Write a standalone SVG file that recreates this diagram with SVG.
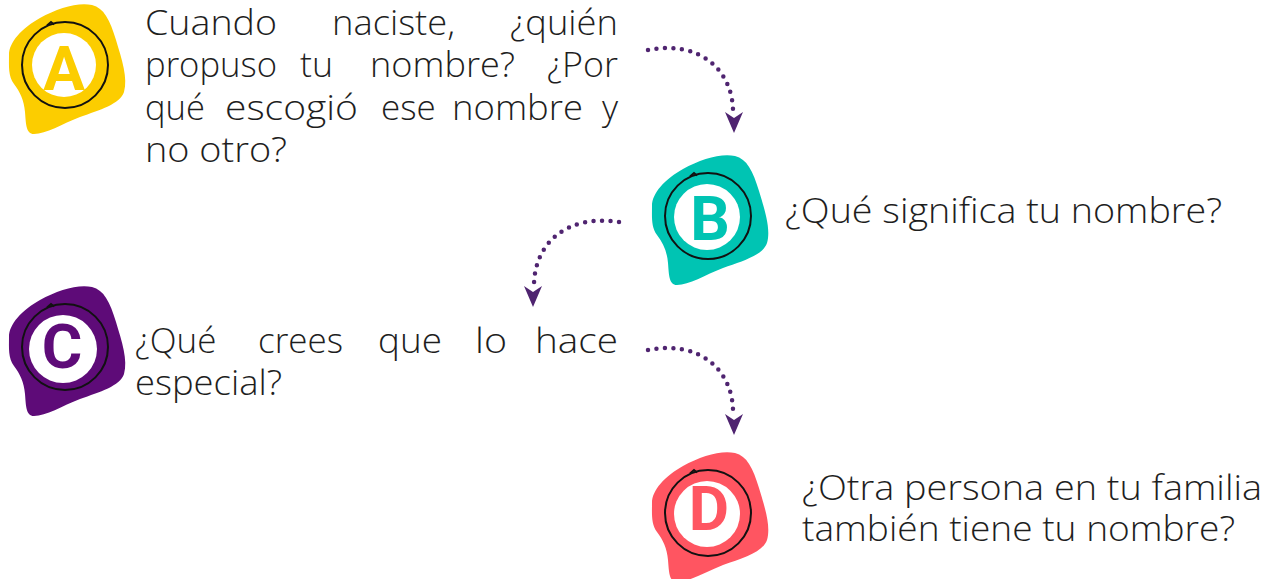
<svg xmlns="http://www.w3.org/2000/svg" xmlns:xlink="http://www.w3.org/1999/xlink" width="1274" height="579" viewBox="0 0 1274 579">
<style>
.t{font-family:"Open Sans",Lato,"Liberation Sans",sans-serif;font-weight:300;font-size:35px;fill:#1e1e1e}
.e{text-anchor:end}
.L{font-family:Roboto,"Liberation Sans",sans-serif;font-weight:700;font-size:62px;text-anchor:middle}
.dots{fill:none;stroke:#4f2470;stroke-width:4.5;stroke-linecap:round;stroke-dasharray:0 8.5}
.head{fill:#4f2470}
.ring{fill:none;stroke:#111;stroke-width:2}
</style>
<defs>
<path id="blob" d="M 9,55 C 9,42 22,28 40,18 C 58,8 78,2 92,5 C 104,8 110,20 116,40 C 122,60 128,78 124,92 C 120,104 100,110 80,117 C 62,124 46,134 34,134 C 26,134 26,124 25,112 C 24,100 20,92 14,84 C 8,76 9,66 9,55 Z"/>
<g id="ring" class="ring">
<circle cx="65" cy="65" r="43"/>
<path d="M 47,25.5 l 4,-3.5 l 3,2.5"/>
</g>
<path id="arrowhead" d="M -9,-21 L 0,-15 L 9,-21 L 0,0 Z"/>
</defs>
<g id="nodeA">
<use xlink:href="#blob" fill="#fccd00"/>
<circle cx="64" cy="65" r="32" fill="#fff"/>
<use xlink:href="#ring"/>
<text class="L" x="64" y="90" fill="#fccd00">A</text>
<text class="t" x="145" y="35" textLength="132" lengthAdjust="spacingAndGlyphs">Cuando</text>
<text class="t" x="332" y="35" textLength="123" lengthAdjust="spacingAndGlyphs">naciste,</text>
<text class="t" x="510" y="35" textLength="108" lengthAdjust="spacingAndGlyphs">¿quién</text>
<text class="t" x="145" y="77" textLength="132" lengthAdjust="spacingAndGlyphs">propuso</text>
<text class="t" x="300" y="77" textLength="33" lengthAdjust="spacingAndGlyphs">tu</text>
<text class="t" x="370" y="77" textLength="145" lengthAdjust="spacingAndGlyphs">nombre?</text>
<text class="t" x="547" y="77" textLength="71" lengthAdjust="spacingAndGlyphs">¿Por</text>
<text class="t" x="145" y="120" textLength="60" lengthAdjust="spacingAndGlyphs">qué</text>
<text class="t" x="225" y="120" textLength="133" lengthAdjust="spacingAndGlyphs">escogió</text>
<text class="t" x="381" y="120">ese</text>
<text class="t" x="452" y="120" textLength="131" lengthAdjust="spacingAndGlyphs">nombre</text>
<text class="t e" x="618" y="120">y</text>
<text class="t" x="145" y="162" textLength="142" lengthAdjust="spacingAndGlyphs">no otro?</text>
</g>
<g id="nodeB">
<use xlink:href="#blob" fill="#00c4b3" transform="translate(643,151)"/>
<circle cx="707" cy="217" r="33" fill="#fff"/>
<use xlink:href="#ring" transform="translate(643,151)"/>
<text class="L" x="710" y="240" fill="#00c4b3">B</text>
<text class="t" x="785" y="223" textLength="437" lengthAdjust="spacingAndGlyphs">¿Qué significa tu nombre?</text>
</g>
<g id="nodeC">
<use xlink:href="#blob" fill="#5e0b78" transform="translate(0,282)"/>
<circle cx="63" cy="349" r="34" fill="#fff"/>
<use xlink:href="#ring" transform="translate(0,282)"/>
<text class="L" x="62" y="368" fill="#5e0b78">C</text>
<text class="t" x="135" y="353">¿Qué</text>
<text class="t" x="258" y="353" textLength="85" lengthAdjust="spacingAndGlyphs">crees</text>
<text class="t" x="378" y="353" textLength="64" lengthAdjust="spacingAndGlyphs">que</text>
<text class="t" x="475" y="353" textLength="32" lengthAdjust="spacingAndGlyphs">lo</text>
<text class="t" x="535" y="353" textLength="83" lengthAdjust="spacingAndGlyphs">hace</text>
<text class="t" x="135" y="395" textLength="147" lengthAdjust="spacingAndGlyphs">especial?</text>
</g>
<g id="nodeD">
<use xlink:href="#blob" fill="#ff5561" transform="translate(643,448)"/>
<circle cx="707" cy="514" r="33" fill="#fff"/>
<use xlink:href="#ring" transform="translate(643,448)"/>
<text class="L" x="709" y="530" fill="#ff5561">D</text>
<text class="t" x="802" y="500" textLength="460" lengthAdjust="spacingAndGlyphs">¿Otra persona en tu familia</text>
<text class="t" x="802" y="541" textLength="433" lengthAdjust="spacingAndGlyphs">también tiene tu nombre?</text>
</g>
<g id="connectors">
<path class="dots" d="M 648,50 C 700,40 732,70 733,110"/>
<use xlink:href="#arrowhead" class="head" transform="translate(734,133)"/>
<path class="dots" d="M 619,222 C 567,214 535,243 534,284"/>
<use xlink:href="#arrowhead" class="head" transform="translate(533,307)"/>
<path class="dots" d="M 648,350 C 700,340 732,370 733,410"/>
<use xlink:href="#arrowhead" class="head" transform="translate(734,435)"/>
</g>
</svg>
